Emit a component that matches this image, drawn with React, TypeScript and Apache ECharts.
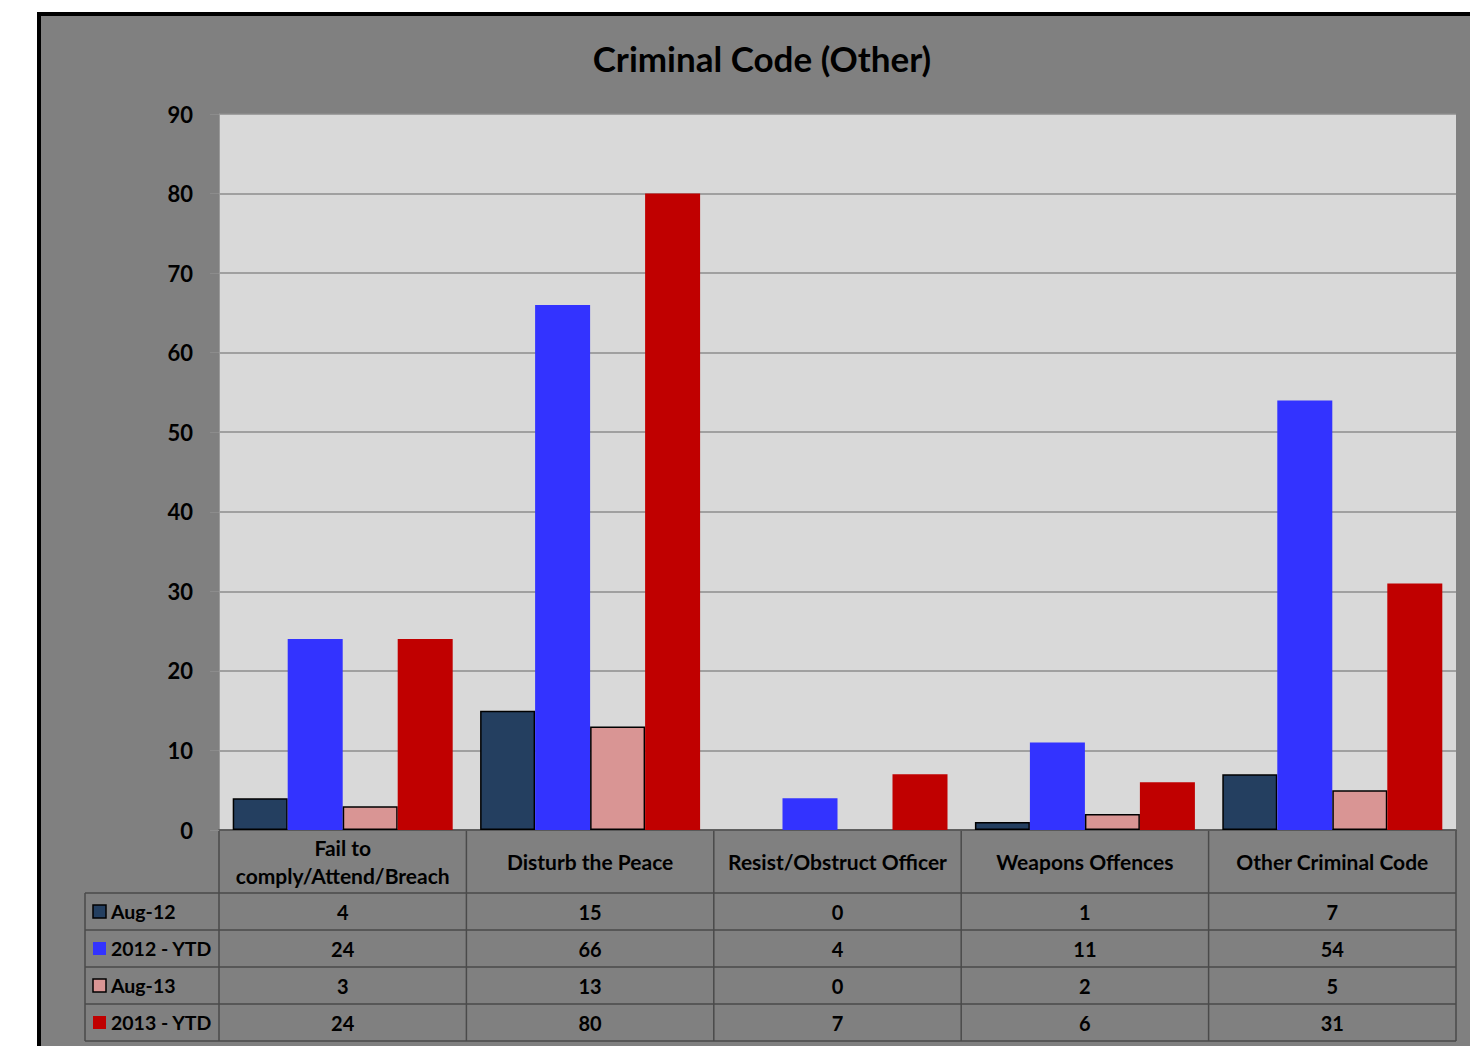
import React, { useEffect, useRef } from "react";
import * as echarts from "echarts";

const categories = [
  "Fail to\ncomply/Attend/Breach",
  "Disturb the Peace",
  "Resist/Obstruct Officer",
  "Weapons Offences",
  "Other Criminal Code",
];
const seriesNames = ["Aug-12", "2012 - YTD", "Aug-13", "2013 - YTD"];
const aug12 = [4, 15, 0, 1, 7];
const ytd2012 = [24, 66, 4, 11, 54];
const aug13 = [3, 13, 0, 2, 5];
const ytd2013 = [24, 80, 7, 6, 31];
const yTicks = { min: 0, max: 90, interval: 10 };

const seriesValues = [aug12, ytd2012, aug13, ytd2013];
const colors = ["#243F60", "#3333FF", "#D99594", "#C00000"];
const bordered = [true, false, true, false];

const FONT = "Lato, 'Open Sans', sans-serif";
const GL = 219;
const GT = 114;
const GW = 1237;
const GH = 716;
const HEADER_H = 63;
const ROW_H = 37;
const LEFT_COL = 85;
const LINE_COLOR = "#4a4a4a";

export default function App() {
  const ref = useRef<HTMLDivElement>(null);
  useEffect(() => {
    if (!ref.current) return;
    const chart = echarts.init(ref.current, undefined, { renderer: "svg" });
    const catW = GW / categories.length;
    const tableTop = GT + GH;
    const rowsTop = tableTop + HEADER_H;
    const tableBottom = rowsTop + ROW_H * seriesNames.length;

    const graphics: any[] = [];
    for (let r = 0; r <= seriesNames.length; r++) {
      const y = rowsTop + r * ROW_H;
      graphics.push({
        type: "line",
        shape: { x1: LEFT_COL, y1: y, x2: GL + GW, y2: y },
        style: { stroke: LINE_COLOR, lineWidth: 1.5 },
      });
    }
    for (let c = 0; c <= categories.length; c++) {
      const x = GL + c * catW;
      graphics.push({
        type: "line",
        shape: { x1: x, y1: tableTop, x2: x, y2: tableBottom },
        style: { stroke: LINE_COLOR, lineWidth: 1.5 },
      });
    }
    graphics.push({
      type: "line",
      shape: { x1: LEFT_COL, y1: rowsTop, x2: LEFT_COL, y2: tableBottom },
      style: { stroke: LINE_COLOR, lineWidth: 1.5 },
    });
    seriesNames.forEach((name, r) => {
      const cy = rowsTop + r * ROW_H + ROW_H / 2;
      graphics.push({
        type: "rect",
        shape: { x: 93, y: cy - 6.5, width: 13, height: 13 },
        style: {
          fill: colors[r],
          stroke: bordered[r] ? "#000" : colors[r],
          lineWidth: bordered[r] ? 1.5 : 0,
        },
      });
      graphics.push({
        type: "text",
        x: 111,
        y: cy,
        style: {
          text: name,
          font: `bold 19.5px ${FONT}`,
          fill: "#000",
          textAlign: "left",
          textVerticalAlign: "middle",
        },
      });
      seriesValues[r].forEach((v, c) => {
        graphics.push({
          type: "text",
          x: GL + c * catW + catW / 2,
          y: cy,
          style: {
            text: String(v),
            font: `bold 20px ${FONT}`,
            fill: "#000",
            textAlign: "center",
            textVerticalAlign: "middle",
          },
        });
      });
    });

    chart.setOption({
      animation: false,
      backgroundColor: "transparent",
      title: {
        text: "Criminal Code (Other)",
        left: 757,
        textAlign: "center",
        top: 35,
        textStyle: {
          fontFamily: FONT,
          fontSize: 35,
          fontWeight: "bold",
          color: "#000",
        },
      },
      grid: {
        left: GL,
        top: GT,
        width: GW,
        height: GH,
        show: true,
        backgroundColor: "#D9D9D9",
        borderWidth: 0,
      },
      xAxis: {
        type: "category",
        data: categories,
        axisLine: { show: true, lineStyle: { color: LINE_COLOR, width: 1.5 } },
        axisTick: { show: false },
        axisLabel: {
          interval: 0,
          margin: 31,
          verticalAlign: "middle",
          lineHeight: 28,
          fontFamily: FONT,
          fontSize: 21,
          fontWeight: "bold",
          color: "#000",
        },
      },
      yAxis: {
        type: "value",
        min: yTicks.min,
        max: yTicks.max,
        interval: yTicks.interval,
        axisLine: { show: true, lineStyle: { color: "#9a9a9a", width: 1 } },
        axisTick: { show: true, length: 9, lineStyle: { color: "#8c8c8c" } },
        axisLabel: {
          margin: 26,
          fontFamily: FONT,
          fontSize: 22,
          fontWeight: "bold",
          color: "#000",
        },
        splitLine: { show: true, lineStyle: { color: "#8c8c8c", width: 1.5 } },
      },
      series: seriesNames.map((name, i) => ({
        name,
        type: "bar",
        data: seriesValues[i].map((v) => ({
          value: v,
          itemStyle: v === 0 ? { borderWidth: 0 } : undefined,
        })),
        barWidth: 55,
        barGap: "0%",
        itemStyle: {
          color: colors[i],
          borderColor: bordered[i] ? "#000" : colors[i],
          borderWidth: bordered[i] ? 1.5 : 0,
        },
      })),
      graphic: graphics,
    });
    return () => chart.dispose();
  }, []);

  return (
    <div
      style={{
        position: "absolute",
        left: 0,
        top: 0,
        width: 1470,
        height: 1046,
        background: "#fff",
        overflow: "hidden",
      }}
    >
      <div
        style={{
          position: "absolute",
          left: 37,
          top: 12,
          width: 1500,
          height: 1100,
          border: "4px solid #000",
          background: "#808080",
        }}
      />
      <div
        ref={ref}
        style={{ position: "absolute", left: 0, top: 0, width: 1470, height: 1046 }}
      />
    </div>
  );
}
